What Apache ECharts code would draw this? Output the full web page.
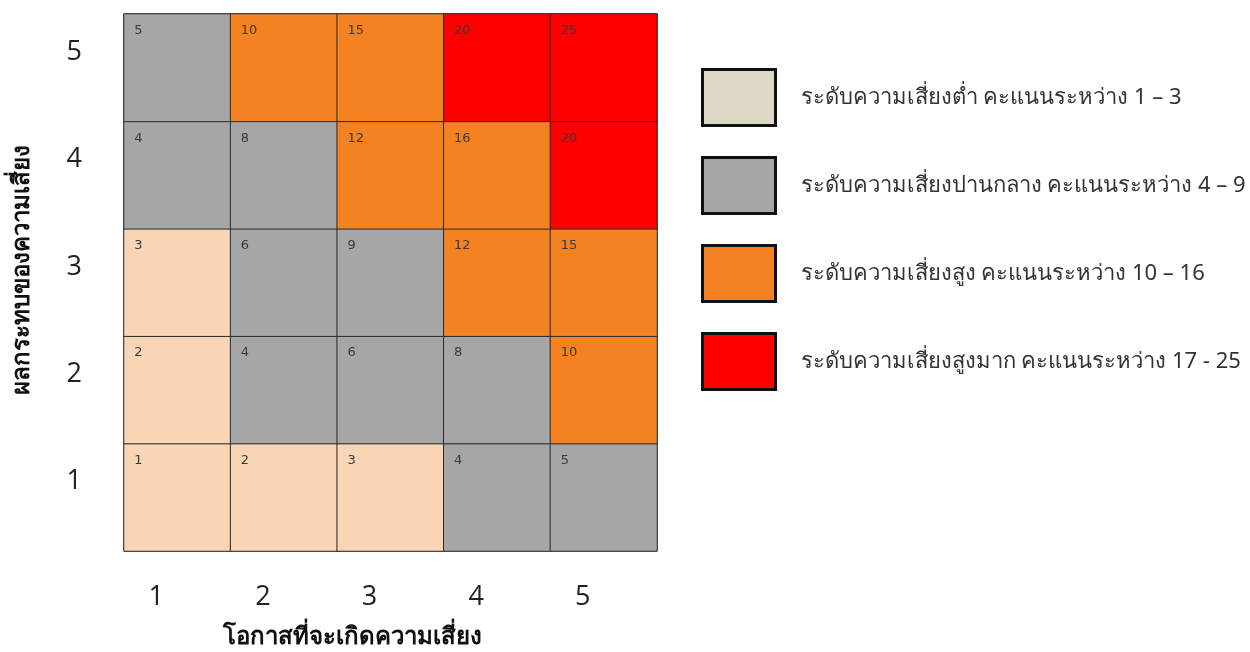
<!DOCTYPE html>
<html>
<head>
<meta charset="utf-8">
<script src="https://cdn.jsdelivr.net/npm/echarts@6/dist/echarts.min.js"></script>
<style>
  html, body { margin: 0; padding: 0; background: #fff; }
  #chart { width: 1250px; height: 652px; }
</style>
</head>
<body>
<div id="chart"></div>
<script>
// Likelihood (x) and impact (y) levels
const likelihood = ['1', '2', '3', '4', '5'];
const impact = ['1', '2', '3', '4', '5'];

// Risk score per cell, one row per impact level (bottom row first)
const scoreRows = [
  [1, 2, 3, 4, 5],
  [2, 4, 6, 8, 10],
  [3, 6, 9, 12, 15],
  [4, 8, 12, 16, 20],
  [5, 10, 15, 20, 25]
];

// Risk bands: label, score range, cell colour, legend swatch colour
const bandNames = [
  'ระดับความเสี่ยงต่ำ คะแนนระหว่าง 1 – 3',
  'ระดับความเสี่ยงปานกลาง คะแนนระหว่าง 4 – 9',
  'ระดับความเสี่ยงสูง คะแนนระหว่าง 10 – 16',
  'ระดับความเสี่ยงสูงมาก คะแนนระหว่าง 17 - 25'
];
const bandMin = [1, 4, 10, 17];
const bandMax = [3, 9, 16, 25];
const bandCellColors = ['#FAD5B5', '#A6A6A6', '#F58220', '#FF0000'];
const bandSwatchColors = ['#DDD8C4', '#A6A6A6', '#F58220', '#FF0000'];

const xTitle = 'โอกาสที่จะเกิดความเสี่ยง';
const yTitle = 'ผลกระทบของความเสี่ยง';

const thaiFont = '"Noto Sans", "DejaVu Sans", sans-serif';
const numFont = '"Open Sans", "DejaVu Sans", sans-serif';

// Split the cells into one heatmap series per band
const series = bandNames.map((name, b) => {
  const data = [];
  scoreRows.forEach((row, yi) => {
    row.forEach((s, xi) => {
      if (s >= bandMin[b] && s <= bandMax[b]) data.push([xi, yi, s]);
    });
  });
  return {
    name: name,
    type: 'heatmap',
    data: data,
    itemStyle: { color: bandCellColors[b], borderColor: '#2b2b2b', borderWidth: 1 },
    label: {
      show: true,
      position: 'insideTopLeft',
      distance: 11,
      formatter: p => p.value[2],
      color: '#3a3a3a',
      fontSize: 13,
      fontFamily: 'Verdana, "DejaVu Sans", sans-serif'
    },
    emphasis: { disabled: true }
  };
});

const chart = echarts.init(document.getElementById('chart'), null, { renderer: 'canvas' });
chart.setOption({
  backgroundColor: '#ffffff',
  animation: false,
  grid: {
    left: 124, top: 14, width: 533, height: 537,
    outerBoundsMode: 'none',
    show: true, borderColor: '#2b2b2b', borderWidth: 1
  },
  xAxis: {
    type: 'category',
    data: likelihood,
    axisLine: { show: false },
    axisTick: { show: false },
    splitLine: { show: false },
    axisLabel: {
      margin: 33,
      fontSize: 27,
      color: '#222',
      fontFamily: numFont,
      padding: [0, 42, 0, 0]
    },
    name: xTitle,
    nameLocation: 'middle',
    nameGap: 74,
    nameTextStyle: {
      fontSize: 24,
      fontWeight: 'bold',
      color: '#111',
      fontFamily: thaiFont,
      padding: [0, 76, 0, 0]
    }
  },
  yAxis: {
    type: 'category',
    data: impact,
    axisLine: { show: false },
    axisTick: { show: false },
    splitLine: { show: false },
    axisLabel: {
      margin: 42,
      fontSize: 27,
      color: '#222',
      fontFamily: numFont,
      verticalAlign: 'bottom',
      padding: [0, 0, 2, 0]
    },
    name: yTitle,
    nameLocation: 'middle',
    nameGap: 90,
    nameRotate: 90,
    nameTextStyle: {
      fontSize: 24,
      fontWeight: 'bold',
      color: '#111',
      fontFamily: thaiFont,
      padding: [0, 0, 0, 26]
    }
  },
  legend: {
    orient: 'vertical',
    left: 701,
    top: 68,
    padding: 0,
    itemWidth: 73,
    itemHeight: 56,
    itemGap: 29,
    icon: 'rect',
    selectedMode: false,
    itemStyle: { borderColor: '#111', borderWidth: 3 },
    textStyle: {
      fontSize: 22,
      color: '#333',
      fontFamily: thaiFont,
      padding: [0, 0, 0, 20]
    },
    data: bandNames.map((n, b) => ({ name: n, itemStyle: { color: bandSwatchColors[b] } }))
  },
  series: series
});
</script>
</body>
</html>
